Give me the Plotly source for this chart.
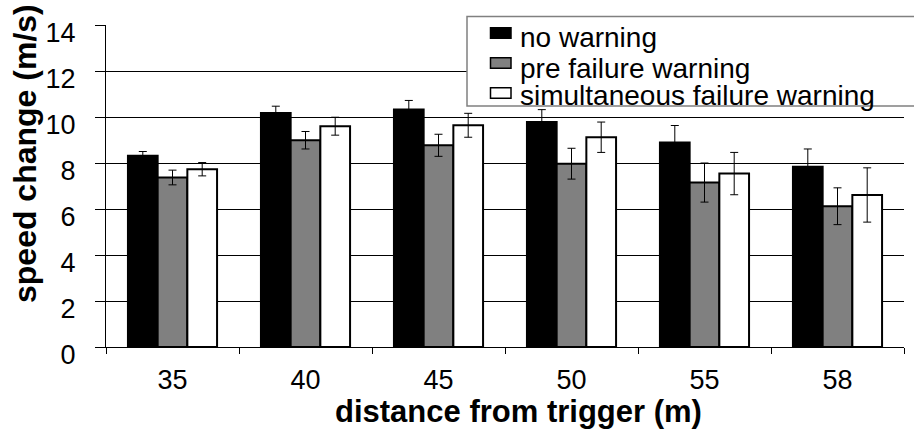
import plotly.graph_objects as go

categories = ["35", "40", "45", "50", "55", "58"]
series_names = ["no warning", "pre failure warning", "simultaneous failure warning"]
no_warning = [8.32, 10.17, 10.33, 9.78, 8.89, 7.84]
no_warning_err = [0.18, 0.30, 0.39, 0.54, 0.74, 0.77]
pre_warning = [7.37, 8.99, 8.77, 7.97, 7.15, 6.12]
pre_warning_err = [0.32, 0.38, 0.48, 0.67, 0.85, 0.80]
simul_warning = [7.73, 9.60, 9.64, 9.12, 7.54, 6.61]
simul_warning_err = [0.29, 0.39, 0.52, 0.66, 0.92, 1.18]
y_ticks = [0, 2, 4, 6, 8, 10, 12, 14]

colors = ["#000000", "#808080", "#ffffff"]
values = [no_warning, pre_warning, simul_warning]
errors = [no_warning_err, pre_warning_err, simul_warning_err]

W, H = 914, 432
ML, MR, MT, MB = 106, 10, 25, 85
PW, PH = W - ML - MR, H - MT - MB

def px_x(p):
    return (p - ML) / PW

def px_y(p):
    return (H - MB - p) / PH

FONT = "Liberation Sans, Arial, sans-serif"

fig = go.Figure()
for name, vals, errs, col in zip(series_names, values, errors, colors):
    fig.add_trace(go.Bar(
        x=categories, y=vals, name=name,
        marker=dict(color=col, line=dict(color="#000000", width=2)),
        error_y=dict(type="data", array=errs, visible=True,
                     color="#000000", thickness=1, width=4),
        showlegend=False,
    ))

fig.update_layout(
    width=W, height=H,
    margin=dict(l=ML, r=MR, t=MT, b=MB),
    paper_bgcolor="white", plot_bgcolor="white",
    barmode="group", bargap=0.33, bargroupgap=0,
    font=dict(family=FONT, color="#000000"),
    showlegend=False,
)
fig.update_xaxes(
    type="category", showline=True, linecolor="#000000", linewidth=1,
    ticks="outside", tickson="boundaries", ticklen=6, tickcolor="#000000",
    tickfont=dict(size=27, family=FONT), showgrid=False, ticklabelstandoff=9,
    automargin=False,
)
fig.update_yaxes(
    range=[0, 14], tickvals=y_ticks, showline=True, linecolor="#000000",
    linewidth=1, ticks="outside", ticklen=10, tickcolor="#000000",
    tickfont=dict(size=27, family=FONT), showgrid=True, gridcolor="#000000",
    gridwidth=1, zeroline=False, ticklabelstandoff=14, ticklabelshift=8,
    automargin=False,
)

# axis titles
fig.add_annotation(text="<b>distance from trigger (m)</b>", xref="paper", yref="paper",
                   x=px_x(518), y=px_y(412), xanchor="center", yanchor="middle",
                   showarrow=False, font=dict(size=31, family=FONT, color="#000000"))
fig.add_annotation(text="<b>speed change (m/s)</b>", xref="paper", yref="paper",
                   x=px_x(25), y=px_y(154), xanchor="center", yanchor="middle",
                   textangle=-90, showarrow=False,
                   font=dict(size=32, family=FONT, color="#000000"))

# legend box
fig.add_shape(type="rect", xref="paper", yref="paper",
              x0=px_x(467), x1=px_x(930), y0=px_y(106), y1=px_y(16.5),
              line=dict(color="#808080", width=1.5), fillcolor="white", layer="above")
marker_tops = [27.7, 57.7, 87.7]
text_centers = [37.7, 68.3, 95.7]
for name, col, mt, tc in zip(series_names, colors, marker_tops, text_centers):
    fig.add_shape(type="rect", xref="paper", yref="paper",
                  x0=px_x(490.5), x1=px_x(511), y0=px_y(mt + 10.5), y1=px_y(mt),
                  line=dict(color="#000000", width=1.5), fillcolor=col, layer="above")
    fig.add_annotation(text=name, xref="paper", yref="paper",
                       x=px_x(518), y=px_y(tc), xanchor="left", yanchor="middle",
                       showarrow=False,
                       font=dict(size=28, family=FONT, color="#000000"))

fig.write_html("out.html", config={"displayModeBar": False},
               post_script="document.body.style.margin='0';")
